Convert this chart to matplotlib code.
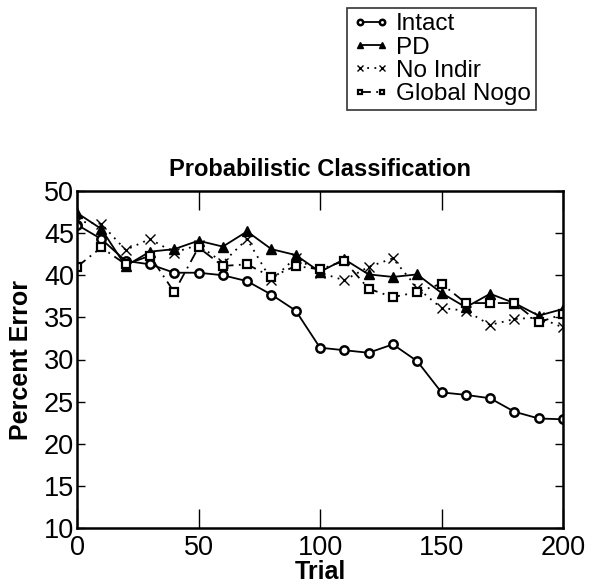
import matplotlib
matplotlib.use("Agg")
import matplotlib.pyplot as plt
import numpy as np

plt.rcParams['font.family'] = ['Liberation Sans', 'DejaVu Sans']

trials = list(range(0, 201, 10))
intact = [46.0, 44.3, 41.7, 41.3, 40.3, 40.3, 40.0, 39.3, 37.7, 35.8, 31.4,
          31.1, 30.8, 31.8, 29.8, 26.1, 25.8, 25.4, 23.8, 23.0, 22.9]
pd_ = [47.4, 45.5, 41.1, 42.8, 43.1, 44.1, 43.4, 45.2, 43.1, 42.4, 40.4,
       41.9, 40.1, 39.8, 40.1, 37.9, 36.2, 37.8, 36.7, 35.2, 36.0]
no_indir = [46.4, 46.1, 43.0, 44.3, 42.7, 43.6, 41.5, 44.3, 39.4, 42.1, 40.3,
            39.4, 41.0, 42.0, 38.5, 36.1, 35.8, 34.1, 34.8, 35.0, 33.8]
global_nogo = [41.0, 43.3, 41.3, 42.3, 38.0, 43.3, 41.1, 41.3, 39.8, 41.1, 40.7,
               41.7, 38.4, 37.4, 38.0, 39.0, 36.7, 36.7, 36.7, 34.4, 35.4]
labels = ["Intact", "PD", "No Indir", "Global Nogo"]
title = "Probabilistic Classification"

fig = plt.figure(figsize=(5.95, 5.84), dpi=100)
ax = fig.add_axes([77/595, 1-528/584, (563-77)/595, (528-191)/584])

ax.plot(trials, intact, color='black', lw=1.3, ls='-', marker='o', ms=6,
        mfc='white', mec='black', mew=1.8, label=labels[0])
ax.plot(trials, pd_, color='black', lw=1.3, ls='-', marker='^', ms=7,
        mfc='black', mec='black', label=labels[1])
ax.plot(trials, no_indir, color='black', lw=1.3, ls=(0, (1, 3)), marker='x', ms=7,
        mew=1.0, label=labels[2])
ax.plot(trials, global_nogo, color='black', lw=1.3, ls=(0, (6, 3, 1, 3)), marker='s', ms=5.5,
        mfc='white', mec='black', mew=1.6, label=labels[3])

ax.set_xlim(0, 200)
ax.set_ylim(10, 50)
ax.set_xticks([0, 50, 100, 150, 200])
ax.set_yticks([10, 15, 20, 25, 30, 35, 40, 45, 50])
ax.tick_params(axis='x', direction='in', length=14, width=1, top=True, labelsize=19.5, pad=5)
ax.tick_params(axis='y', direction='in', length=6, width=1, right=True, labelsize=19.5, pad=2)
for s in ax.spines.values():
    s.set_linewidth(1.8)

ax.set_xlabel("Trial", fontsize=18, fontweight='bold')
ax.xaxis.set_label_coords(0.5, -0.096)
ax.set_ylabel("Percent Error", fontsize=18, fontweight='bold')
ax.yaxis.set_label_coords(-0.09, 0.5)
ax.set_title(title, fontsize=17, fontweight='bold', pad=11)

handles, lbls = ax.get_legend_handles_labels()
leg = fig.legend(handles, lbls, loc='upper left', bbox_to_anchor=(347/595, 1-8/584),
                 borderaxespad=0, fontsize=17.5, frameon=True, fancybox=False, edgecolor='black',
                 handlelength=1.5, handletextpad=0.3, labelspacing=0.05,
                 borderpad=0.22, markerscale=0.65, numpoints=2)
leg.get_frame().set_linewidth(1.2)

fig.savefig("out.png", dpi=100)
